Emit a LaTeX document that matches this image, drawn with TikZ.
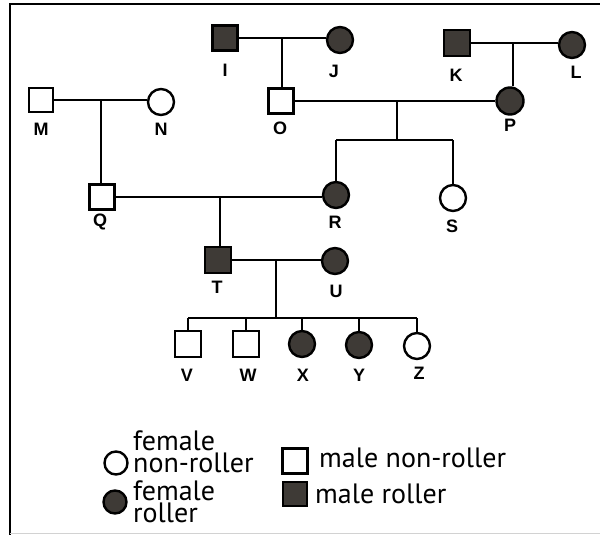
\documentclass[tikz,border=0pt]{standalone}
\usepackage{fontspec}
\setmainfont{Liberation Sans}
\newfontfamily\legfont{PT Sans}
\definecolor{rollgray}{RGB}{62,58,54}
\begin{document}
\begin{tikzpicture}[x=1pt,y=-1pt,
  male/.style={draw=black, line width=2.4pt, rectangle, minimum size=25pt, inner sep=0pt},
  female/.style={draw=black, line width=2.4pt, circle, minimum size=26pt, inner sep=0pt},
  roller/.style={fill=rollgray},
  lab/.style={font=\bfseries\fontsize{18}{18}\selectfont, inner sep=0pt},
  link/.style={line width=1.5pt},
  leg/.style={font=\legfont\fontsize{28}{22}\selectfont, inner sep=0pt, anchor=base west}
]
\useasboundingbox (0,0) rectangle (600,535);
% frame
\draw[line width=2.5pt] (10,535) -- (10,4) -- (600,4);
\draw[gray!35, line width=1pt] (10,533) -- (600,533);

% individuals
\node[male, roller, minimum size=25pt] (I) at (225,38) {};
\node[female, roller] (J) at (340,40) {};
\node[male, roller, minimum size=26pt] (K) at (457,43) {};
\node[female, roller] (L) at (572,45) {};
\node[male, minimum size=24pt] (M) at (41,100) {};
\node[female] (N) at (161,102) {};
\node[male] (O) at (281,101) {};
\node[female, roller, minimum size=27pt] (P) at (510,101) {};
\node[male] (Q) at (102,197) {};
\node[female, roller] (R) at (336,195) {};
\node[female] (S) at (453,198) {};
\node[male, roller, minimum size=26pt] (T) at (218,260) {};
\node[female, roller] (U) at (335,261) {};
\node[male, minimum size=26pt] (V) at (188,344) {};
\node[male, minimum size=26pt] (W) at (246,344) {};
\node[female, roller] (X) at (302,344) {};
\node[female, roller] (Y) at (359,345) {};
\node[female] (Z) at (417,346) {};

% labels
\node[lab] (lI) at (225,70) {I};
\node[lab] (lJ) at (334,71) {J};
\node[lab] (lK) at (456,75) {K};
\node[lab] (lL) at (576,72) {L};
\node[lab] (lM) at (41,129) {M};
\node[lab] (lN) at (161,129) {N};
\node[lab] (lO) at (280,128) {O};
\node[lab] (lP) at (510,125) {P};
\node[lab] (lQ) at (100,222) {Q};
\node[lab] (lR) at (335,222) {R};
\node[lab] (lS) at (452,226) {S};
\node[lab] (lT) at (217,287) {T};
\node[lab] (lU) at (336,291) {U};
\node[lab] (lV) at (187,375) {V};
\node[lab] (lW) at (248,375) {W};
\node[lab] (lX) at (303,375) {X};
\node[lab] (lY) at (359,375) {Y};
\node[lab] (lZ) at (419,373) {Z};

% matings and descent
\coordinate (ij) at (282,38);
\coordinate (kl) at (513,43);
\coordinate (mn) at (101,100);
\coordinate (op) at (397,101);
\coordinate (sib1) at (397,140);
\coordinate (qr) at (220,196);
\coordinate (tu) at (276,260);
\coordinate (sib2) at (276,318);

\draw[link] (I.east) -- (I.east -| J.west);
\draw[link] (ij) -- (ij |- O.north);
\draw[link] (K.east) -- (K.east -| L.west);
\draw[link] (kl) -- (kl |- P.north);
\draw[link] (M.east) -- (M.east -| N.west);
\draw[link] (mn) -- (mn |- Q.north);
\draw[link] (O.east) -- (O.east -| P.west);
\draw[link] (op) -- (sib1);
\draw[link] (R.north |- sib1) -- (S.north |- sib1);
\draw[link] (R.north |- sib1) -- (R.north);
\draw[link] (S.north |- sib1) -- (S.north);
\draw[link] (Q.east) -- (Q.east -| R.west);
\draw[link] (qr) -- (qr |- T.north);
\draw[link] (T.east) -- (T.east -| U.west);
\draw[link] (tu) -- (sib2);
\draw[link] (V.north |- sib2) -- (Z.north |- sib2);
\foreach \c in {V,W,X,Y,Z} {
  \draw[link] (\c.north |- sib2) -- (\c.north);
}

% legend
\node[female, minimum size=23pt] (legFN) at (116,463) {};
\node[leg] (tFN1) at (133,450) {female};
\node[leg] (tFN2) at (133,472) {non-roller};
\node[male, minimum size=25pt] (legMN) at (295,461) {};
\node[leg] (tMN) at (319,467) {male non-roller};
\node[female, roller, minimum size=23pt] (legFR) at (115,502) {};
\node[leg] (tFR1) at (133,500) {female};
\node[leg] (tFR2) at (133,522) {roller};
\node[male, roller, minimum size=24pt] (legMR) at (295,494) {};
\node[leg] (tMR) at (315,503) {male roller};
\end{tikzpicture}
\end{document}
